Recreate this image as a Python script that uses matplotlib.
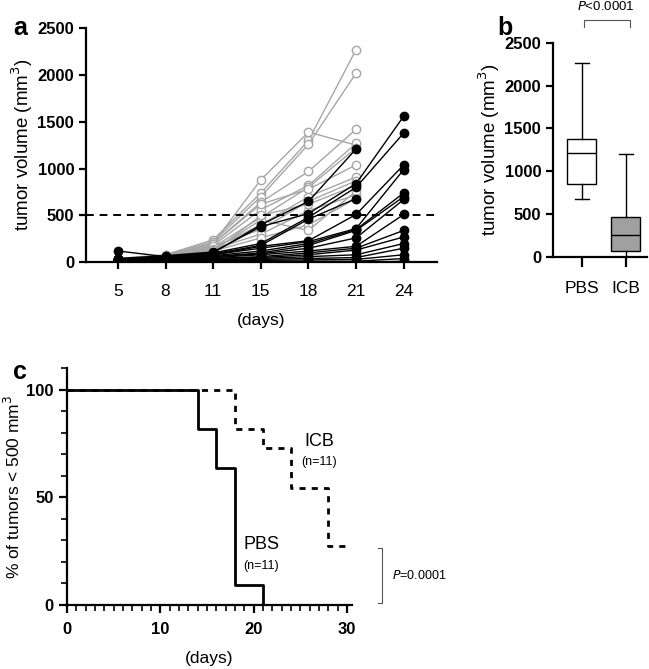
import numpy as np
import matplotlib
matplotlib.use("Agg")
from matplotlib import pyplot as plt
from matplotlib.ticker import MultipleLocator

plt.rcParams['font.family'] = ['Liberation Sans', 'DejaVu Sans']

# ---- panel a : individual tumour growth ----
days = [5, 8, 11, 15, 18, 21, 24]
nan = np.nan

pbs_curves = [
    [40, 80, 240, 740, 1300, 2270, nan],
    [35, 75, 220, 700, 1260, 2020, nan],
    [30, 70, 200, 880, 1390, 1250, nan],
    [30, 65, 200, 640, 970, 1420, nan],
    [35, 60, 180, 560, 820, 1270, nan],
    [25, 55, 160, 480, 800, 1220, nan],
    [30, 65, 200, 620, 780, 1040, nan],
    [20, 50, 150, 400, 700, 910, nan],
    [25, 60, 170, 350, 650, 870, nan],
    [20, 55, 140, 300, 550, 720, nan],
    [15, 45, 120, 260, 400, 680, nan],
    [20, 50, 130, 450, 340, 760, nan],
    [20, 45, 110, 500, 620, 820, nan],
]

icb_curves = [
    [120, 60, 100, 400, 650, 1210, nan],
    [40, 70, 110, 380, 520, 840, 1560],
    [35, 60, 100, 200, 480, 800, 1380],
    [30, 55, 90, 180, 460, 680, nan],
    [30, 50, 80, 170, 230, 510, 1040],
    [25, 50, 80, 150, 220, 360, 990],
    [25, 45, 70, 120, 200, 350, 740],
    [20, 40, 60, 100, 180, 340, 700],
    [20, 40, 60, 90, 150, 260, 670],
    [20, 35, 50, 80, 120, 170, 510],
    [15, 30, 40, 60, 100, 150, 340],
    [15, 30, 40, 50, 80, 130, 270],
    [10, 25, 30, 40, 60, 80, 200],
    [10, 20, 25, 30, 40, 50, 150],
    [5, 15, 20, 20, 25, 30, 80],
    [5, 10, 10, 10, 10, 10, 40],
    [0, 5, 5, 0, 0, 0, 10],
]
threshold = 500

# ---- panel b : day-21 volume box plot (min, Q1, median, Q3, max) ----
groups_b = ['PBS', 'ICB']
box_min = [680, 0]
box_q1 = [850, 70]
box_med = [1210, 250]
box_q3 = [1380, 470]
box_max = [2270, 1200]

# ---- panel c : time to 500 mm3 (Kaplan-Meier) ----
km_pbs_t = [0, 14, 16, 18, 21]
km_pbs_s = [100, 81.8, 63.6, 9.1, 0]
km_icb_t = [0, 18, 21, 24, 28, 30]
km_icb_s = [100, 81.8, 72.7, 54.5, 27.3, 27.3]

fig = plt.figure(figsize=(6.49, 6.69), dpi=100)


def style_axes(ax):
    for s in ['top', 'right']:
        ax.spines[s].set_visible(False)
    for s in ['left', 'bottom']:
        ax.spines[s].set_linewidth(1.6)


# ---------------- a ----------------
ax1 = fig.add_axes([0.1325, 0.608, 0.541, 0.35])
xi = np.arange(len(days))
for c in pbs_curves:
    ax1.plot(xi, c, color='#a6a6a6', lw=1.0, marker='o', ms=6,
             mfc='white', mec='#a6a6a6', mew=1.0)
for c in icb_curves:
    ax1.plot(xi, c, color='black', lw=1.0, marker='o', ms=6,
             mfc='black', mec='black', zorder=3)
ax1.axhline(threshold, color='black', lw=1.4, ls=(0, (4, 3)))
ax1.set_xlim(-0.67, 6.7)
ax1.set_ylim(0, 2500)
ax1.set_xticks(xi)
ax1.set_xticklabels([str(d) for d in days], fontsize=12.5)
ax1.set_yticks([0, 500, 1000, 1500, 2000, 2500])
ax1.set_yticklabels(['0', '500', '1000', '1500', '2000', '2500'],
                    fontsize=12, fontweight='bold')
ax1.set_ylabel('tumor volume (mm$^3$)', fontsize=13.5, labelpad=2)
ax1.set_xlabel('(days)', fontsize=12.5, labelpad=10)
style_axes(ax1)
ax1.tick_params(width=1.6, length=5)
ax1.tick_params(axis='x', pad=11)
fig.text(0.02, 0.958, 'a', fontsize=18, fontweight='bold', va='center')

# ---------------- b ----------------
ax2 = fig.add_axes([0.852, 0.616, 0.145, 0.32])
stats = []
for i, g in enumerate(groups_b):
    stats.append(dict(label=g, whislo=box_min[i], q1=box_q1[i], med=box_med[i],
                      q3=box_q3[i], whishi=box_max[i]))
bp = ax2.bxp(stats, positions=[1, 2], widths=0.66, showfliers=False,
             patch_artist=True,
             boxprops=dict(lw=1.0, color='black'),
             medianprops=dict(color='black', lw=1.0),
             whiskerprops=dict(lw=1.0), capprops=dict(lw=1.0))
bp['boxes'][0].set_facecolor('white')
bp['boxes'][1].set_facecolor('#a0a0a0')
for cap in bp['caps']:
    cap.set_xdata(np.mean(cap.get_xdata()) + np.array([-0.15, 0.15]))
ax2.set_xlim(0.34, 2.48)
ax2.set_ylim(0, 2500)
ax2.set_yticks([0, 500, 1000, 1500, 2000, 2500])
ax2.set_yticklabels(['0', '500', '1000', '1500', '2000', '2500'],
                    fontsize=12, fontweight='bold')
ax2.set_xticklabels(groups_b, fontsize=12.5)
ax2.set_ylabel('tumor volume (mm$^3$)', fontsize=13.5, labelpad=2)
style_axes(ax2)
ax2.tick_params(width=1.6, length=5)
ax2.tick_params(axis='x', length=7, pad=10)
ax2.plot([1.05, 1.05, 2.1, 2.1], [2680, 2770, 2770, 2680], color='#555555',
         lw=0.8, clip_on=False)
ax2.text(1.55, 2920, '$P$<0.0001', fontsize=9.5, ha='center', va='center')
fig.text(0.766, 0.958, 'b', fontsize=18, fontweight='bold', va='center')

# ---------------- c ----------------
ax3 = fig.add_axes([0.103, 0.0957, 0.439, 0.354])
ax3.step(km_pbs_t, km_pbs_s, where='post', color='black', lw=2.0)
ax3.step(km_icb_t, km_icb_s, where='post', color='black', lw=2.0,
         ls=(0, (2.2, 2.2)))
ax3.set_xlim(0, 30.5)
ax3.set_ylim(0, 110)
ax3.set_xticks([0, 10, 20, 30])
ax3.set_xticklabels(['0', '10', '20', '30'], fontsize=12, fontweight='bold')
ax3.set_yticks([0, 50, 100])
ax3.set_yticklabels(['0', '50', '100'], fontsize=12, fontweight='bold')
ax3.xaxis.set_minor_locator(MultipleLocator(1))
ax3.yaxis.set_minor_locator(MultipleLocator(10))
ax3.tick_params(which='major', width=1.6, length=6)
ax3.tick_params(which='minor', width=1.2, length=4)
ax3.tick_params(axis='x', which='major', pad=6)
ax3.set_ylabel('% of tumors < 500 mm$^3$', fontsize=12.5, labelpad=2)
ax3.set_xlabel('(days)', fontsize=12.5, labelpad=10)
style_axes(ax3)
ax3.text(27, 76, 'ICB', fontsize=13, ha='center', va='center')
ax3.text(27, 66.5, '(n=11)', fontsize=9, ha='center', va='center')
ax3.text(20.8, 28, 'PBS', fontsize=13, ha='center', va='center')
ax3.text(20.8, 18, '(n=11)', fontsize=9, ha='center', va='center')
ax3.plot([33.3, 33.7, 33.7, 33.3], [26.5, 26.5, 1, 1], color='#555555',
         lw=0.8, clip_on=False)
ax3.text(34.8, 13.5, '$P$=0.0001', fontsize=9, ha='left', va='center')
fig.text(0.02, 0.444, 'c', fontsize=18, fontweight='bold', va='center')

fig.savefig('out.png', dpi=100)
